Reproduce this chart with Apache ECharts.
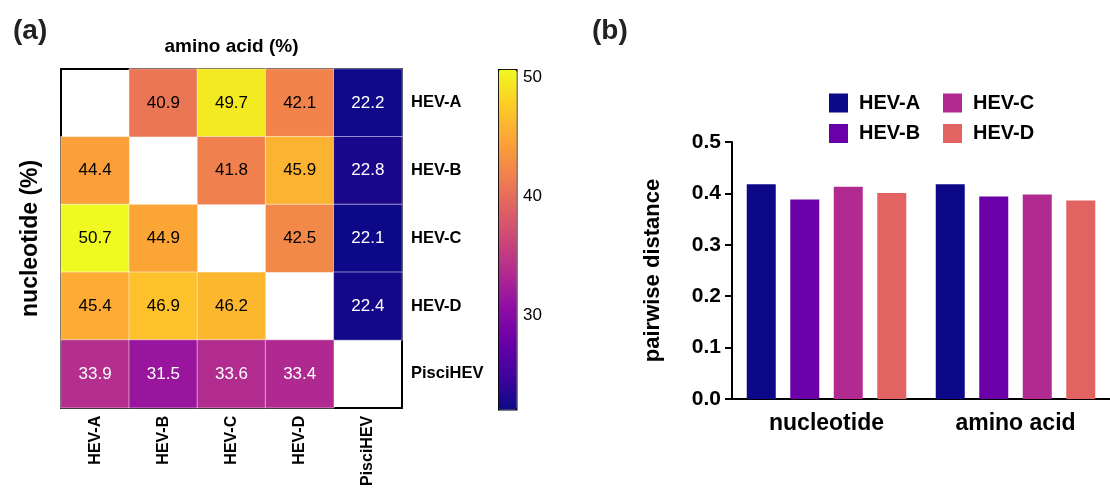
<!DOCTYPE html>
<html>
<head>
<meta charset="utf-8">
<script src="https://cdn.jsdelivr.net/npm/echarts@6/dist/echarts.min.js"></script>
<style>
  html, body { margin: 0; padding: 0; background: #fff; }
  #chart { width: 1110px; height: 489px; }
</style>
</head>
<body>
<div id="chart"></div>
<script>
// (a) heatmap: rows = nucleotide (%), columns = amino acid (%)
const strains = ['HEV-A', 'HEV-B', 'HEV-C', 'HEV-D', 'PisciHEV'];
const identity = [
  [null, 40.9, 49.7, 42.1, 22.2],
  [44.4, null, 41.8, 45.9, 22.8],
  [50.7, 44.9, null, 42.5, 22.1],
  [45.4, 46.9, 46.2, null, 22.4],
  [33.9, 31.5, 33.6, 33.4, null]
];
const colorbarTicks = [30, 40, 50];

// (b) pairwise distance bars
const groups = ['nucleotide', 'amino acid'];
const hevA = [0.418, 0.418];
const hevB = [0.388, 0.394];
const hevC = [0.413, 0.398];
const hevD = [0.401, 0.386];

const plasma = ['#0d0887', '#41049d', '#6a00a8', '#8f0da4', '#b12a90', '#cc4778',
  '#e16462', '#f2844b', '#fca636', '#fcce25', '#f0f921'];
const barColors = ['#0d0887', '#6a00a8', '#b12a90', '#e16462'];
const FONT = 'Liberation Sans, Arial, sans-serif';

const values = identity.flat().filter(v => v != null);
const vmin = Math.min(...values);
const vmax = Math.max(...values);

const heatData = [];
identity.forEach((row, r) => {
  row.forEach((v, c) => {
    if (v == null) return;
    heatData.push({
      value: [c, r, v],
      label: { color: v < 36 ? '#fff' : '#000' }
    });
  });
});

const chart = echarts.init(document.getElementById('chart'));

const boldAxis = { color: '#000', width: 2 };

const option = {
  backgroundColor: '#fff',
  animation: false,
  textStyle: { fontFamily: FONT },
  title: [
    { text: '(a)', left: 8, top: 12, textStyle: { fontSize: 28, fontWeight: 'bold', color: '#222', fontFamily: FONT } },
    { text: '(b)', left: 587, top: 12, textStyle: { fontSize: 28, fontWeight: 'bold', color: '#222', fontFamily: FONT } }
  ],
  grid: [
    { left: 61, top: 69, width: 341, height: 341 },
    { left: 732, top: 142, width: 386, height: 257 },
    { left: 498, top: 69, width: 18, height: 340 }
  ],
  xAxis: [
    {
      type: 'category', gridIndex: 0, data: strains, position: 'bottom',
      axisLine: { lineStyle: boldAxis },
      axisTick: { alignWithLabel: true, length: 6, lineStyle: { color: '#000', width: 1.5 } },
      axisLabel: { rotate: 90, margin: 8, fontSize: 16, fontWeight: 'bold', color: '#000', fontFamily: FONT },
      splitLine: { show: false }
    },
    {
      type: 'category', gridIndex: 0, data: strains, position: 'top',
      axisLine: { lineStyle: boldAxis }, axisTick: { show: false }, axisLabel: { show: false },
      name: 'amino acid (%)', nameLocation: 'middle', nameGap: 13,
      nameTextStyle: { fontSize: 19, fontWeight: 'bold', color: '#000', fontFamily: FONT }
    },
    {
      type: 'category', gridIndex: 1, data: groups,
      axisLine: { lineStyle: boldAxis },
      axisTick: { alignWithLabel: true, length: 7, lineStyle: { color: '#000', width: 2 } },
      axisLabel: { margin: 13, fontSize: 23, fontWeight: 'bold', color: '#000', fontFamily: FONT }
    },
    { type: 'value', gridIndex: 2, show: false, min: 0, max: 1 }
  ],
  yAxis: [
    {
      type: 'category', gridIndex: 0, data: strains, inverse: true, position: 'right',
      axisLine: { lineStyle: boldAxis },
      axisTick: { alignWithLabel: true, length: 6, lineStyle: { color: '#000', width: 1.5 } },
      axisLabel: { margin: 9, fontSize: 16.5, fontWeight: 'bold', color: '#000', fontFamily: FONT },
      splitLine: { show: false }
    },
    {
      type: 'category', gridIndex: 0, data: strains, inverse: true, position: 'left',
      axisLine: { lineStyle: boldAxis }, axisTick: { show: false }, axisLabel: { show: false },
      name: 'nucleotide (%)', nameLocation: 'middle', nameRotate: 90, nameGap: 19,
      nameTextStyle: { fontSize: 23, fontWeight: 'bold', color: '#000', fontFamily: FONT }
    },
    {
      type: 'value', gridIndex: 1, min: 0, max: 0.5, interval: 0.1,
      axisLine: { show: true, lineStyle: boldAxis },
      axisTick: { show: true, length: 7, lineStyle: { color: '#000', width: 2 } },
      axisLabel: { margin: 11, fontSize: 21, fontWeight: 'bold', color: '#000', fontFamily: FONT,
        formatter: v => v.toFixed(1) },
      splitLine: { show: false },
      name: 'pairwise distance', nameLocation: 'middle', nameRotate: 90, nameGap: 68,
      nameTextStyle: { fontSize: 22, fontWeight: 'bold', color: '#000', fontFamily: FONT }
    },
    {
      type: 'value', gridIndex: 2, min: vmin, max: vmax, position: 'right',
      axisLine: { show: false },
      axisTick: { show: true, length: 4, customValues: colorbarTicks, lineStyle: { color: '#000', width: 1.5 } },
      axisLabel: { margin: 7, fontSize: 17, color: '#000', fontFamily: FONT, customValues: colorbarTicks },
      splitLine: { show: false }
    }
  ],
  visualMap: {
    type: 'continuous', seriesIndex: 0, min: vmin, max: vmax,
    left: 498, top: 69, itemWidth: 18, itemHeight: 340, padding: 0,
    calculable: false, text: null, showLabel: false,
    borderColor: '#000', borderWidth: 1.5,
    inRange: { color: plasma }
  },
  legend: [
    {
      data: ['HEV-A', 'HEV-B'], orient: 'vertical', left: 829, top: 93, padding: 0, icon: 'rect',
      itemWidth: 19, itemHeight: 19, itemGap: 10.5,
      textStyle: { fontSize: 20, fontWeight: 'bold', color: '#000', fontFamily: FONT, padding: [0, 0, 0, 6] }
    },
    {
      data: ['HEV-C', 'HEV-D'], orient: 'vertical', left: 943, top: 93, padding: 0, icon: 'rect',
      itemWidth: 19, itemHeight: 19, itemGap: 10.5,
      textStyle: { fontSize: 20, fontWeight: 'bold', color: '#000', fontFamily: FONT, padding: [0, 0, 0, 6] }
    }
  ],
  series: [
    {
      type: 'heatmap', xAxisIndex: 0, yAxisIndex: 0, data: heatData,
      itemStyle: { borderColor: 'rgba(255,255,255,0.5)', borderWidth: 1 },
      label: { show: true, fontSize: 17, fontFamily: FONT },
      emphasis: { disabled: true }
    },
    { name: 'HEV-A', type: 'bar', xAxisIndex: 2, yAxisIndex: 2, data: hevA, barWidth: 29, barGap: '50%', itemStyle: { color: barColors[0] } },
    { name: 'HEV-B', type: 'bar', xAxisIndex: 2, yAxisIndex: 2, data: hevB, barWidth: 29, barGap: '50%', itemStyle: { color: barColors[1] } },
    { name: 'HEV-C', type: 'bar', xAxisIndex: 2, yAxisIndex: 2, data: hevC, barWidth: 29, barGap: '50%', itemStyle: { color: barColors[2] } },
    { name: 'HEV-D', type: 'bar', xAxisIndex: 2, yAxisIndex: 2, data: hevD, barWidth: 29, barGap: '50%', itemStyle: { color: barColors[3] } }
  ]
};

chart.setOption(option);
</script>
</body>
</html>
